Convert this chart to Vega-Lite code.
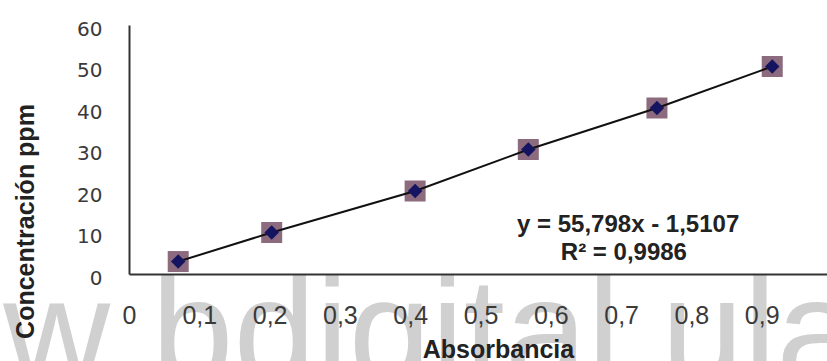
{
  "$schema": "https://vega.github.io/schema/vega-lite/v6.json",
  "width": 703,
  "height": 249,
  "autosize": "none",
  "padding": {"left": 129, "top": 25, "right": 0, "bottom": 87},
  "background": "white",
  "config": {"view": {"stroke": null}},
  "datasets": {
    "puntos": [
      {"absorbancia": 0.07, "ppm": 3},
      {"absorbancia": 0.203, "ppm": 10},
      {"absorbancia": 0.407, "ppm": 20},
      {"absorbancia": 0.568, "ppm": 30},
      {"absorbancia": 0.751, "ppm": 40},
      {"absorbancia": 0.915, "ppm": 50}
    ],
    "ecuacion": [{"linea1": "y = 55,798x  - 1,5107", "linea2": "R² = 0,9986"}],
    "marca": [{"texto": "w bdigital ula"}]
  },
  "layer": [
    {
      "data": {"name": "marca"},
      "mark": {"type": "text", "font": "Liberation Sans", "fontSize": 148, "color": "#d0d0d0", "align": "left", "baseline": "alphabetic"},
      "encoding": {
        "x": {"datum": -0.179, "type": "quantitative", "scale": {"domain": [0, 1]}},
        "y": {"datum": -26, "type": "quantitative", "scale": {"domain": [0, 60]}},
        "text": {"field": "texto"}
      }
    },
    {
      "data": {"name": "puntos"},
      "mark": {"type": "point", "shape": "square", "filled": true, "size": 441, "color": "#8d6b7e", "opacity": 1},
      "encoding": {
        "x": {"field": "absorbancia", "type": "quantitative", "scale": {"domain": [0, 1]},
          "axis": {"title": "Absorbancia", "values": [0, 0.1, 0.2, 0.3, 0.4, 0.5, 0.6, 0.7, 0.8, 0.9],
            "labelExpr": "datum.value == 0 ? '0' : replace(format(datum.value, '.1f'), '.', ',')",
            "ticks": false, "tickSize": 0, "grid": false, "domainColor": "#333333", "domainWidth": 2,
            "labelFont": "Liberation Sans", "labelFontSize": 25, "labelColor": "#3a3a3a", "labelBaseline": "alphabetic", "labelPadding": 49,
            "labelFlush": false, "labelOverlap": false,
            "titleFont": "Liberation Sans", "titleFontWeight": "bold", "titleFontSize": 25, "titleColor": "#222222",
            "titleX": 369, "titleY": 83, "titleBaseline": "alphabetic", "titleAlign": "center", "zindex": 1}},
        "y": {"field": "ppm", "type": "quantitative", "scale": {"domain": [0, 60]},
          "axis": {"title": "Concentración ppm", "values": [0, 10, 20, 30, 40, 50, 60],
            "ticks": false, "tickSize": 0, "grid": false, "domainColor": "#333333", "domainWidth": 2,
            "labelFont": "DejaVu Sans", "labelFontSize": 20, "labelColor": "#3a3a3a", "labelBaseline": "alphabetic", "labelOffset": 10, "labelPadding": 27,
            "labelFlush": false, "labelOverlap": false,
            "titleFont": "Liberation Sans", "titleFontWeight": "bold", "titleFontSize": 25, "titleColor": "#222222",
            "titleAngle": 270, "titleX": -96, "titleY": 196, "titleBaseline": "alphabetic", "titleAlign": "center", "zindex": 1}}
      }
    },
    {
      "data": {"name": "puntos"},
      "mark": {"type": "line", "color": "#111111", "strokeWidth": 2},
      "encoding": {
        "x": {"field": "absorbancia", "type": "quantitative"},
        "y": {"field": "ppm", "type": "quantitative"}
      }
    },
    {
      "data": {"name": "puntos"},
      "mark": {"type": "point", "shape": "diamond", "filled": true, "size": 210, "color": "#141460", "opacity": 1},
      "encoding": {
        "x": {"field": "absorbancia", "type": "quantitative"},
        "y": {"field": "ppm", "type": "quantitative"}
      }
    },
    {
      "data": {"name": "ecuacion"},
      "mark": {"type": "text", "font": "Liberation Sans", "fontWeight": "bold", "fontSize": 24, "color": "#222222", "align": "center", "baseline": "alphabetic"},
      "encoding": {
        "x": {"datum": 0.71, "type": "quantitative"},
        "y": {"datum": 10.1, "type": "quantitative"},
        "text": {"field": "linea1"}
      }
    },
    {
      "data": {"name": "ecuacion"},
      "mark": {"type": "text", "font": "Liberation Sans", "fontWeight": "bold", "fontSize": 24, "color": "#222222", "align": "center", "baseline": "alphabetic"},
      "encoding": {
        "x": {"datum": 0.704, "type": "quantitative"},
        "y": {"datum": 3.37, "type": "quantitative"},
        "text": {"field": "linea2"}
      }
    }
  ]
}
